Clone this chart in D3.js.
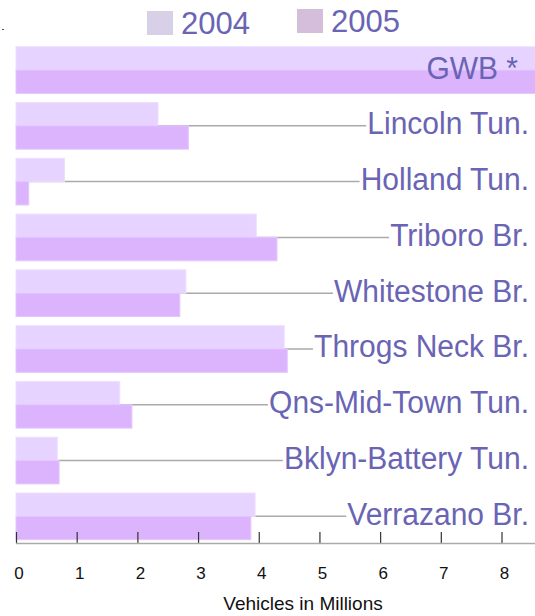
<!DOCTYPE html>
<html>
<head>
<meta charset="utf-8">
<script src="https://cdn.jsdelivr.net/npm/d3@7"></script>
<style>
    body { margin: 0; background: #fff; }
    svg { display: block; font-family: "Liberation Sans", Arial, sans-serif; }
</style>
</head>
<body>
<div id="chart"></div>
<script>
// crossings, vehicles in millions (GWB runs off the scale)
const crossings = ["GWB *", "Lincoln Tun.", "Holland Tun.", "Triboro Br.", "Whitestone Br.",
    "Throgs Neck Br.", "Qns-Mid-Town Tun.", "Bklyn-Battery Tun.", "Verrazano Br."];
const years = ["2004", "2005"];
const values2004 = [9.5, 2.34, 0.80, 3.96, 2.80, 4.42, 1.71, 0.68, 3.94];
const values2005 = [9.5, 2.84, 0.21, 4.30, 2.70, 4.47, 1.91, 0.71, 3.87];
const xTicks = [0, 1, 2, 3, 4, 5, 6, 7, 8];

const width = 535, height = 616;
const textColor = "#6a64b4";
const barColors = {"2004": "#e6d3ff", "2005": "#dcb4fe"};
const barStroke = {"2004": "#ece0ff", "2005": "#e4c6ff"};
const legendColors = {"2004": "#d8d0e6", "2005": "#d4bedc"};
const labelSize = 30;

let data = crossings.map((c, i) => ({name: c, "2004": values2004[i], "2005": values2005[i]}));

let svg = d3.select("#chart").append("svg")
    .attr("width", width)
    .attr("height", height);

// scales
let x = d3.scaleLinear()
    .domain([0, 8])
    .range([16, 501.5]);

let y = d3.scaleBand()
    .domain(crossings)
    .range([46.7, 539.7])
    .paddingInner(0.163);

let ySub = d3.scaleBand()
    .domain(years)
    .range([0, y.bandwidth()]);

// label right edge (GWB * sits a bit further in)
let labelX = d => d.name === "GWB *" ? 518 : 529;

// measure labels so the leader lines stop just before them
let labelWidths = {};
let measure = svg.append("text")
    .attr("font-size", labelSize);
crossings.forEach(c => {
    measure.text(c);
    labelWidths[c] = measure.node().getComputedTextLength();
});
measure.remove();

// leader lines behind bars
svg.append("g")
    .selectAll("line")
    .data(data.slice(1))
    .enter()
    .append("line")
    .attr("x1", x(0))
    .attr("x2", d => labelX(d) - labelWidths[d.name] - 1)
    .attr("y1", d => y(d.name) + y.bandwidth() / 2)
    .attr("y2", d => y(d.name) + y.bandwidth() / 2)
    .attr("stroke", "#aaaaaa")
    .attr("stroke-width", 1.5);

// bars
let groups = svg.append("g")
    .selectAll("g")
    .data(data)
    .enter()
    .append("g")
    .attr("transform", d => `translate(0, ${y(d.name)})`);

groups.selectAll("rect")
    .data(d => years.map(yr => ({year: yr, value: d[yr]})))
    .enter()
    .append("rect")
    .attr("x", x(0))
    .attr("y", d => ySub(d.year))
    .attr("width", d => x(d.value) - x(0))
    .attr("height", ySub.bandwidth())
    .attr("fill", d => barColors[d.year])
    .attr("stroke", d => barStroke[d.year])
    .attr("stroke-width", 1);

// labels (slightly tall glyphs like the original)
svg.append("g")
    .selectAll("text")
    .data(data)
    .enter()
    .append("text")
    .attr("transform", d => `translate(${labelX(d)}, ${y(d.name) + y.bandwidth() / 2 + 8.5}) scale(1, 1.07)`)
    .attr("text-anchor", "end")
    .attr("font-size", labelSize)
    .attr("fill", textColor)
    .text(d => d.name);

// x axis
let xAxis = d3.axisBottom(x)
    .tickValues(xTicks)
    .tickSize(0)
    .tickPadding(0);

let axisG = svg.append("g")
    .attr("transform", "translate(0, 543.5)")
    .call(xAxis);

axisG.select(".domain").remove();
axisG.attr("font-family", null).attr("font-size", null);
axisG.selectAll(".tick text")
    .attr("dy", null)
    .attr("y", 35.5)
    .attr("x", 2.5)
    .attr("font-size", 17)
    .attr("fill", "#111");

axisG.append("line")
    .attr("x1", x(0))
    .attr("x2", width)
    .attr("stroke", "#aaaaaa")
    .attr("stroke-width", 1.5);

axisG.selectAll(".tick")
    .append("line")
    .attr("y1", -11.5)
    .attr("y2", 0)
    .attr("stroke", "#333")
    .attr("stroke-width", 1.2);

svg.append("text")
    .attr("x", 303)
    .attr("y", 610)
    .attr("text-anchor", "middle")
    .attr("font-size", 19)
    .attr("fill", "#111")
    .text("Vehicles in Millions");

// legend
let legendItems = [
    {year: "2004", x: 147, y: 11},
    {year: "2005", x: 297, y: 9}
];

let legend = svg.append("g")
    .selectAll("g")
    .data(legendItems)
    .enter()
    .append("g")
    .attr("transform", d => `translate(${d.x}, ${d.y})`);

legend.append("rect")
    .attr("width", 26)
    .attr("height", 24)
    .attr("fill", d => legendColors[d.year]);

legend.append("text")
    .attr("x", 34)
    .attr("y", 23)
    .attr("font-size", 31)
    .attr("fill", textColor)
    .text(d => d.year);

// stray mark top-left
svg.append("rect")
    .attr("x", 2)
    .attr("y", 29)
    .attr("width", 2)
    .attr("height", 1)
    .attr("fill", "#555");
</script>
</body>
</html>
